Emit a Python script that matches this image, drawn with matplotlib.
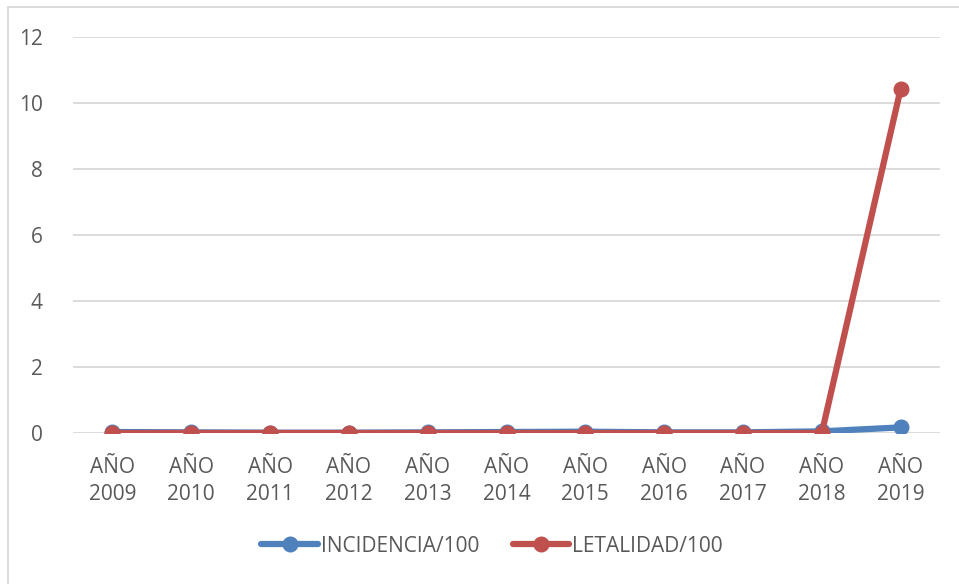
import matplotlib.pyplot as plt
from matplotlib.patches import Rectangle

# datos del grafico
anios = ['AÑO\n2009', 'AÑO\n2010', 'AÑO\n2011', 'AÑO\n2012', 'AÑO\n2013', 'AÑO\n2014',
         'AÑO\n2015', 'AÑO\n2016', 'AÑO\n2017', 'AÑO\n2018', 'AÑO\n2019']
incidencia = [0.03, 0.02, 0.01, 0.01, 0.02, 0.03, 0.04, 0.02, 0.02, 0.05, 0.17]
letalidad = [0, 0, 0, 0, 0, 0, 0, 0, 0, 0, 10.42]

plt.rcParams['font.family'] = ['Open Sans', 'DejaVu Sans']
gris = '#595959'

fig = plt.figure(figsize=(9.59, 5.84), dpi=100)
ax = fig.add_axes([73 / 959, 1 - 433 / 584, 867 / 959, 396 / 584])

x = range(len(anios))
ax.plot(x, incidencia, color='#4f81bd', lw=4.5, marker='o', ms=10.5,
        solid_capstyle='round', label='INCIDENCIA/100', zorder=3)
ax.plot(x, letalidad, color='#c0504d', lw=4.5, marker='o', ms=10.5,
        solid_capstyle='round', label='LETALIDAD/100', zorder=4)

ax.set_xlim(-0.5, len(anios) - 0.5)
ax.set_ylim(0, 12)
ax.set_yticks(range(0, 13, 2))
ax.set_xticks(list(x))
ax.set_xticklabels(anios)
ax.grid(axis='y', color='#d9d9d9', lw=1.3)
ax.set_axisbelow(True)
for s in ax.spines.values():
    s.set_visible(False)
ax.tick_params(length=0, labelsize=15, colors=gris, pad=17)
ax.tick_params(axis='y', pad=22)
for t in ax.get_xticklabels():
    t.set_linespacing(1.4)

leg = fig.legend(loc='center', bbox_to_anchor=(492 / 959, 1 - 546 / 584), ncol=2,
                 frameon=False, fontsize=15, handlelength=2.7,
                 handletextpad=0.15, columnspacing=1.6)
for t in leg.get_texts():
    t.set_color(gris)

# marco del grafico
fig.patches.append(Rectangle((8 / 959, -0.1), 1.2, 1 - 7 / 584 + 0.1,
                             transform=fig.transFigure, fill=False,
                             edgecolor='#d9d9d9', lw=1.3))

fig.savefig('out.png', dpi=100)
